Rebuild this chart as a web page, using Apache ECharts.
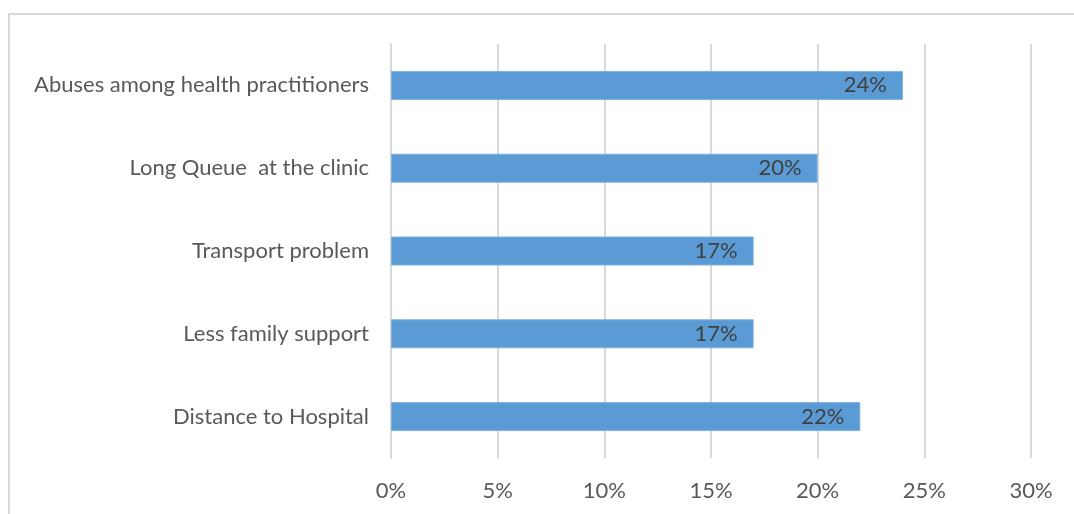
<!DOCTYPE html>
<html>
<head>
<meta charset="utf-8">
<script src="https://cdn.jsdelivr.net/npm/echarts@6/dist/echarts.min.js"></script>
<style>
  html, body { margin: 0; padding: 0; background: #ffffff; }
  #chart { width: 1074px; height: 514px; }
</style>
</head>
<body>
<div id="chart"></div>
<script>
// Barriers listed bottom-to-top, as the category axis draws them
const categories = [
  'Distance to Hospital',
  'Less family support',
  'Transport problem',
  'Long Queue  at the clinic',
  'Abuses among health practitioners'
];
const shares = [22, 17, 17, 20, 24];
const tickValues = [0, 5, 10, 15, 20, 25, 30];

const FONT = 'Lato, "Open Sans", sans-serif';

const chart = echarts.init(document.getElementById('chart'), null, { renderer: 'canvas' });
chart.setOption({
  animation: false,
  backgroundColor: '#ffffff',
  graphic: [{
    type: 'rect',
    shape: { x: 9, y: 14, width: 1100, height: 600 },
    style: { fill: 'none', stroke: '#d9d9d9', lineWidth: 2 },
    silent: true
  }],
  grid: { left: 391, right: 43, top: 44, bottom: 56, containLabel: false },
  xAxis: {
    type: 'value',
    min: tickValues[0],
    max: tickValues[tickValues.length - 1],
    interval: 5,
    axisLine: { show: false },
    axisTick: { show: false },
    splitLine: { show: true, lineStyle: { color: '#d9d9d9', width: 2 } },
    axisLabel: {
      color: '#595959',
      fontFamily: FONT,
      fontSize: 22,
      margin: 22,
      formatter: v => v + '%'
    }
  },
  yAxis: {
    type: 'category',
    data: categories,
    axisLine: { show: true, lineStyle: { color: '#d9d9d9', width: 2 } },
    axisTick: { show: false },
    axisLabel: {
      color: '#595959',
      fontFamily: FONT,
      fontSize: 22,
      margin: 22
    }
  },
  series: [{
    type: 'bar',
    data: shares,
    barWidth: 29,
    itemStyle: { color: '#5b9bd5', borderColor: '#7fb0de', borderWidth: 1 },
    label: {
      show: true,
      position: 'insideRight',
      distance: 16,
      color: '#404040',
      fontFamily: FONT,
      fontSize: 22,
      formatter: p => p.value + '%'
    }
  }]
});
</script>
</body>
</html>
